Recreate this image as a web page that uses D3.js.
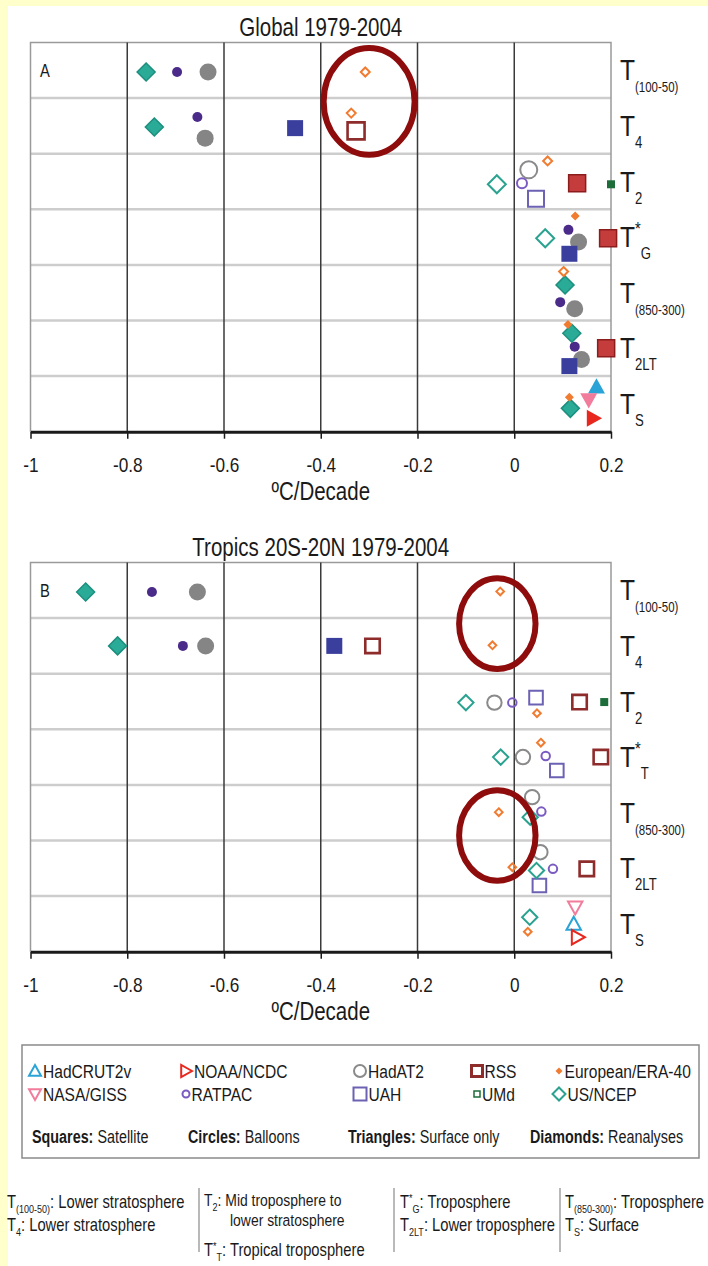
<!DOCTYPE html>
<html>
<head>
<meta charset="utf-8">
<script src="https://cdn.jsdelivr.net/npm/d3@7"></script>
<style>
  body { margin: 0; background: #ffffcc; }
  svg { display: block; }
  text { font-family: "Liberation Sans", Arial, sans-serif; fill: #1a1a1a; }
</style>
</head>
<body>
<div id="chart"></div>
<script>
// ---- categories ----
const rowsGlobal = ['T(100-50)', 'T4', 'T2', 'T*G', 'T(850-300)', 'T2LT', 'TS'];
const rowsTropics = ['T(100-50)', 'T4', 'T2', 'T*T', 'T(850-300)', 'T2LT', 'TS'];
const xTicks = [-1, -0.8, -0.6, -0.4, -0.2, 0, 0.2];
const xTickLabels = ['-1', '-0.8', '-0.6', '-0.4', '-0.2', '0', '0.2'];
// draw order (later ones sit on top)
const datasets = ['HadAT2', 'RATPAC', 'UAH', 'RSS', 'UMd', 'US/NCEP', 'European/ERA-40', 'HadCRUT2v', 'NASA/GISS', 'NOAA/NCDC'];

// ---- trends, ºC/decade, one value per row (null = no data) ----
const globalHadCRUT2v = [null, null, null, null, null, null, 0.170];
const globalNASAGISS  = [null, null, null, null, null, null, 0.154];
const globalNOAANCDC  = [null, null, null, null, null, null, 0.164];
const globalRATPAC    = [-0.697, -0.655, 0.016, 0.112, 0.095, 0.125, null];
const globalHadAT2    = [-0.633, -0.639, 0.030, 0.133, 0.125, 0.139, null];
const globalUAH       = [null, -0.453, 0.045, 0.114, null, 0.114, null];
const globalRSS       = [null, -0.327, 0.130, 0.194, null, 0.190, null];
const globalUMd       = [null, null, 0.200, null, null, null, null];
const globalERA40     = [-0.308, -0.337, 0.069, 0.126, 0.102, 0.111, 0.114];
const globalNCEP      = [-0.761, -0.744, -0.036, 0.064, 0.105, 0.119, 0.116];

const tropicsHadCRUT2v = [null, null, null, null, null, null, 0.123];
const tropicsNASAGISS  = [null, null, null, null, null, null, 0.126];
const tropicsNOAANCDC  = [null, null, null, null, null, null, 0.131];
const tropicsRATPAC    = [-0.749, -0.685, -0.004, 0.065, 0.056, 0.080, null];
const tropicsHadAT2    = [-0.655, -0.638, -0.041, 0.018, 0.037, 0.054, null];
const tropicsUAH       = [null, -0.372, 0.045, 0.088, null, 0.052, null];
const tropicsRSS       = [null, -0.293, 0.135, 0.179, null, 0.150, null];
const tropicsUMd       = [null, null, 0.186, null, null, null, null];
const tropicsERA40     = [-0.029, -0.045, 0.047, 0.055, -0.032, -0.004, 0.028];
const tropicsNCEP      = [-0.886, -0.820, -0.100, -0.028, 0.033, 0.046, 0.032];

// ---- layout: vertical dodge inside each row (fraction of row height) ----
const dodgeGlobal = {
  'HadCRUT2v': [0, 0, 0, 0, 0, 0, .19], 'NASA/GISS': [0, 0, 0, 0, 0, 0, .43], 'NOAA/NCDC': [0, 0, 0, 0, 0, 0, .76],
  'RATPAC': [.53, .34, .53, .37, .67, .47, 0], 'HadAT2': [.53, .72, .29, .59, .79, .70, 0],
  'UAH': [0, .54, .81, .80, 0, .82, 0], 'RSS': [0, .59, .53, .52, 0, .50, 0], 'UMd': [0, 0, .55, 0, 0, 0, 0],
  'European/ERA-40': [.53, .27, .13, .12, .12, .07, .38], 'US/NCEP': [.53, .52, .55, .52, .36, .23, .58]
};
const dodgeTropics = {
  'HadCRUT2v': [0, 0, 0, 0, 0, 0, .50], 'NASA/GISS': [0, 0, 0, 0, 0, 0, .20], 'NOAA/NCDC': [0, 0, 0, 0, 0, 0, .74],
  'RATPAC': [.53, .50, .52, .48, .48, .51, 0], 'HadAT2': [.53, .50, .52, .50, .22, .21, 0],
  'UAH': [0, .50, .43, .74, 0, .81, 0], 'RSS': [0, .50, .51, .50, 0, .51, 0], 'UMd': [0, 0, .51, 0, 0, 0, 0],
  'European/ERA-40': [.52, .49, .71, .24, .49, .48, .64], 'US/NCEP': [.53, .50, .52, .50, .58, .54, .38]
};
// which rows are drawn hollow
const openGlobal = { 'European/ERA-40': [0, 1, 2, 4], 'US/NCEP': [2, 3], 'HadAT2': [2], 'RATPAC': [2], 'UAH': [2], 'RSS': [1] };
const solidTropics = { 'US/NCEP': [0, 1], 'RATPAC': [0, 1], 'HadAT2': [0, 1], 'UAH': [1], 'UMd': [2] };

const markerStyle = {
  'HadCRUT2v':       { shape: 'triUp',    w: 17, color: '#2aa4d6' },
  'NASA/GISS':       { shape: 'triDown',  w: 17, color: '#f27c9c' },
  'NOAA/NCDC':       { shape: 'triRight', w: 17, color: '#e8281e' },
  'RATPAC':          { shape: 'circle',   w: 10, color: '#4b2b8a', open: '#7a5bc2' },
  'HadAT2':          { shape: 'circle',   w: 17, color: '#858585', open: '#8a8a8a' },
  'UAH':             { shape: 'square',   w: 16, color: '#3a3f9e', open: '#6c62b4' },
  'RSS':             { shape: 'square',   w: 17, color: '#c43c3c', stroke: '#8c1d1d', open: '#8e2b2b' },
  'UMd':             { shape: 'square',   w: 8,  color: '#1c6d3a' },
  'European/ERA-40': { shape: 'diamond',  w: 9,  color: '#f07c32' },
  'US/NCEP':         { shape: 'diamond',  w: 18, color: '#2aab98', stroke: '#1c8f7e', open: '#2aa290' }
};

const legendRow1 = ['HadCRUT2v', 'NOAA/NCDC', 'HadAT2', 'RSS', 'European/ERA-40'];
const legendRow2 = ['NASA/GISS', 'RATPAC', 'UAH', 'UMd', 'US/NCEP'];
const legendNotes = [['Squares:', 'Satellite'], ['Circles:', 'Balloons'], ['Triangles:', 'Surface only'], ['Diamonds:', 'Reanalyses']];

const W = 708, H = 1266;
const NARROW = 0.82; // the figure uses a condensed face
const svg = d3.select('#chart').append('svg').attr('width', W).attr('height', H);
svg.append('rect').attr('x', 8).attr('y', 6).attr('width', W - 8).attr('height', H - 6).attr('fill', '#fff');

// condensed text anchored at (x, y)
function ntext(parent, x, y, size) {
  return parent.append('g').attr('transform', `translate(${x},${y}) scale(${NARROW},1)`)
    .append('text').attr('font-size', size);
}

function shapeType(shape) {
  return {
    draw(ctx, size) {
      const r = Math.sqrt(size) / 2;
      if (shape === 'circle') { ctx.moveTo(r, 0); ctx.arc(0, 0, r, 0, 2 * Math.PI); return; }
      let pts;
      if (shape === 'square') pts = [[-r, -r], [r, -r], [r, r], [-r, r]];
      if (shape === 'diamond') pts = [[0, -r], [r, 0], [0, r], [-r, 0]];
      if (shape === 'triUp') pts = [[0, -r], [r, r * 0.8], [-r, r * 0.8]];
      if (shape === 'triDown') pts = [[0, r], [r, -r * 0.8], [-r, -r * 0.8]];
      if (shape === 'triRight') pts = [[r, 0], [-r * 0.8, -r], [-r * 0.8, r]];
      ctx.moveTo(pts[0][0], pts[0][1]);
      pts.slice(1).forEach(p => ctx.lineTo(p[0], p[1]));
      ctx.closePath();
    }
  };
}

function marker(g, name, filled, w, sw) {
  const s = markerStyle[name];
  const p = g.append('path').attr('d', d3.symbol().type(shapeType(s.shape)).size(w * w)());
  if (filled) {
    p.attr('fill', s.color).attr('stroke', s.stroke || 'none').attr('stroke-width', s.stroke ? 1.5 : 0);
  } else {
    p.attr('fill', 'none').attr('stroke', s.open || s.color).attr('stroke-width', sw);
  }
  return p;
}

function rowLabel(g, label, x, y) {
  const star = label.includes('*');
  const sub = label.slice(1).replace('*', '');
  const t = ntext(g, x, y, 30);
  t.append('tspan').text('T');
  if (star) t.append('tspan').attr('font-size', 18).attr('dy', -12).text('*');
  t.append('tspan').attr('font-size', sub.length > 3 ? 14 : 16).attr('dy', star ? 24 : 12).text(sub);
}

function drawPanel(cfg) {
  const g = svg.append('g');
  const x = d3.scaleLinear().domain([-1, 0.2]).range([30.5, 611]);
  const y = d3.scaleBand().domain(cfg.rows).range([cfg.top, cfg.bottom]);
  const bw = y.bandwidth();

  ntext(g, (x(-1) + x(0.2)) / 2, cfg.top - 7, 25).attr('text-anchor', 'middle').text(cfg.title);

  // row separators
  g.selectAll('.sep').data(cfg.rows.slice(1)).enter().append('line')
    .attr('x1', x(-1)).attr('x2', x(0.2)).attr('y1', d => y(d)).attr('y2', d => y(d))
    .attr('stroke', '#cdcdcd').attr('stroke-width', 2.5);
  // frame
  g.append('path').attr('fill', 'none').attr('stroke', '#9a9a9a').attr('stroke-width', 1.5)
    .attr('d', `M${x(-1)},${cfg.bottom}V${cfg.top}H${x(0.2)}V${cfg.bottom}`);
  // vertical grid
  g.selectAll('.grid').data(xTicks.slice(1, -1)).enter().append('line')
    .attr('x1', d => x(d)).attr('x2', d => x(d)).attr('y1', cfg.top).attr('y2', cfg.bottom)
    .attr('stroke', '#3a3a3a').attr('stroke-width', 1.5);

  const axis = g.append('g').attr('transform', `translate(0,${cfg.bottom})`)
    .call(d3.axisBottom(x).tickValues(xTicks).tickFormat((d, i) => xTickLabels[i])
      .tickSizeInner(7).tickSizeOuter(0).tickPadding(18));
  axis.attr('font-family', null).attr('font-size', null);
  axis.select('.domain').attr('stroke', '#1a1a1a').attr('stroke-width', 3);
  axis.selectAll('.tick line').attr('stroke', '#1a1a1a').attr('stroke-width', 1.5);
  axis.selectAll('.tick text').attr('font-size', 21).attr('fill', '#1a1a1a')
    .attr('transform', `scale(${NARROW},1)`);

  ntext(g, (x(-1) + x(0.2)) / 2, cfg.bottom + 68, 25).attr('text-anchor', 'middle').text('ºC/Decade');

  ntext(g, 40, cfg.top + 34, 18).text(cfg.letter);

  cfg.rows.forEach(r => rowLabel(g, r, 620, y(r) + bw / 2 + 10));

  // points
  const pts = [];
  datasets.forEach(name => {
    cfg.values[name].forEach((v, i) => {
      if (v === null) return;
      pts.push({ name, row: cfg.rows[i], i, v, dodge: cfg.dodge[name][i], filled: cfg.isFilled(name, i) });
    });
  });
  pts.forEach(p => {
    const mg = g.append('g').attr('transform', `translate(${x(p.v)},${y(p.row) + p.dodge * bw})`);
    const s = markerStyle[p.name];
    const w = p.filled ? s.w : s.w * cfg.openScale;
    marker(mg, p.name, p.filled, w, p.name === 'RSS' ? 2.6 : 2);
  });

  // red highlight ellipses
  cfg.rings.forEach(e => {
    g.append('ellipse')
      .attr('cx', x(e.cx)).attr('cy', y(e.row) + e.off * bw)
      .attr('rx', x(e.cx + e.rx) - x(e.cx)).attr('ry', e.ry * bw)
      .attr('fill', 'none').attr('stroke', '#8e0c0c').attr('stroke-width', 6);
  });
}

drawPanel({
  title: 'Global 1979-2004', letter: 'A', rows: rowsGlobal, top: 42.5, bottom: 431.7, openScale: 1,
  values: {
    'HadCRUT2v': globalHadCRUT2v, 'NASA/GISS': globalNASAGISS, 'NOAA/NCDC': globalNOAANCDC,
    'RATPAC': globalRATPAC, 'HadAT2': globalHadAT2, 'UAH': globalUAH, 'RSS': globalRSS,
    'UMd': globalUMd, 'European/ERA-40': globalERA40, 'US/NCEP': globalNCEP
  },
  dodge: dodgeGlobal,
  isFilled: (name, i) => !(openGlobal[name] || []).includes(i),
  rings: [{ cx: -0.30, row: 'T4', off: 0.06, rx: 0.094, ry: 0.96 }]
});

drawPanel({
  title: 'Tropics 20S-20N 1979-2004', letter: 'B', rows: rowsTropics, top: 562.5, bottom: 951.7, openScale: 0.85,
  values: {
    'HadCRUT2v': tropicsHadCRUT2v, 'NASA/GISS': tropicsNASAGISS, 'NOAA/NCDC': tropicsNOAANCDC,
    'RATPAC': tropicsRATPAC, 'HadAT2': tropicsHadAT2, 'UAH': tropicsUAH, 'RSS': tropicsRSS,
    'UMd': tropicsUMd, 'European/ERA-40': tropicsERA40, 'US/NCEP': tropicsNCEP
  },
  dodge: dodgeTropics,
  isFilled: (name, i) => (solidTropics[name] || []).includes(i),
  rings: [
    { cx: -0.035, row: 'T4', off: 0.1, rx: 0.079, ry: 0.815 },
    { cx: -0.035, row: 'T2LT', off: -0.09, rx: 0.079, ry: 0.815 }
  ]
});

// ---- legend ----
const lg = svg.append('g');
lg.append('rect').attr('x', 22).attr('y', 1045).attr('width', 677).attr('height', 113)
  .attr('fill', '#fff').attr('stroke', '#8a8a8a').attr('stroke-width', 1.5);
const legendColX = [35, 186, 360, 477, 559];
const legendW = { 'HadCRUT2v': 12, 'NASA/GISS': 12, 'NOAA/NCDC': 12, 'HadAT2': 12, 'RATPAC': 7, 'UAH': 13, 'RSS': 11, 'UMd': 6, 'European/ERA-40': 7, 'US/NCEP': 13 };
[[legendRow1, 1071], [legendRow2, 1094]].forEach(([names, cy]) => {
  names.forEach((name, i) => {
    const mg = lg.append('g').attr('transform', `translate(${legendColX[i]},${cy})`);
    marker(mg, name, name === 'European/ERA-40', legendW[name], name === 'RSS' ? 3 : (name === 'UMd' ? 1.5 : 2));
    ntext(lg, legendColX[i] + legendW[name] / 2 + 2, cy + 7, 19).text(name);
  });
});
const noteX = [32, 188, 348, 530];
legendNotes.forEach((n, i) => {
  const t = ntext(lg, noteX[i], 1143, 17.5);
  t.append('tspan').attr('font-weight', 'bold').text(n[0]);
  t.append('tspan').text(' ' + n[1]);
});

// ---- footnote ----
const fn = svg.append('g');
function fnLine(x, y, star, sub, rest, size) {
  const t = ntext(fn, x, y, size || 18);
  if (sub !== null) {
    t.append('tspan').text('T');
    if (star) t.append('tspan').attr('font-size', 11).attr('dy', -6).text('*');
    t.append('tspan').attr('font-size', 11).attr('dy', star ? 11 : 5).text(sub);
    t.append('tspan').attr('dy', -5).text(rest);
  } else {
    t.text(rest);
  }
}
fnLine(7, 1208, false, '(100-50)', ': Lower stratosphere');
fnLine(7, 1231, false, '4', ': Lower stratosphere');
fnLine(204, 1206, false, '2', ':  Mid troposphere to', 17);
fnLine(230, 1226, false, null, 'lower stratosphere', 17);
fnLine(204, 1256, true, 'T', ': Tropical troposphere');
fnLine(400, 1208, true, 'G', ': Troposphere');
fnLine(400, 1231, false, '2LT', ': Lower troposphere');
fnLine(565, 1208, false, '(850-300)', ': Troposphere');
fnLine(565, 1231, false, 'S', ': Surface');
[199, 394, 560].forEach(sx => {
  fn.append('line').attr('x1', sx).attr('x2', sx).attr('y1', 1188).attr('y2', 1252)
    .attr('stroke', '#8a8a8a').attr('stroke-width', 1.2);
});
</script>
</body>
</html>
